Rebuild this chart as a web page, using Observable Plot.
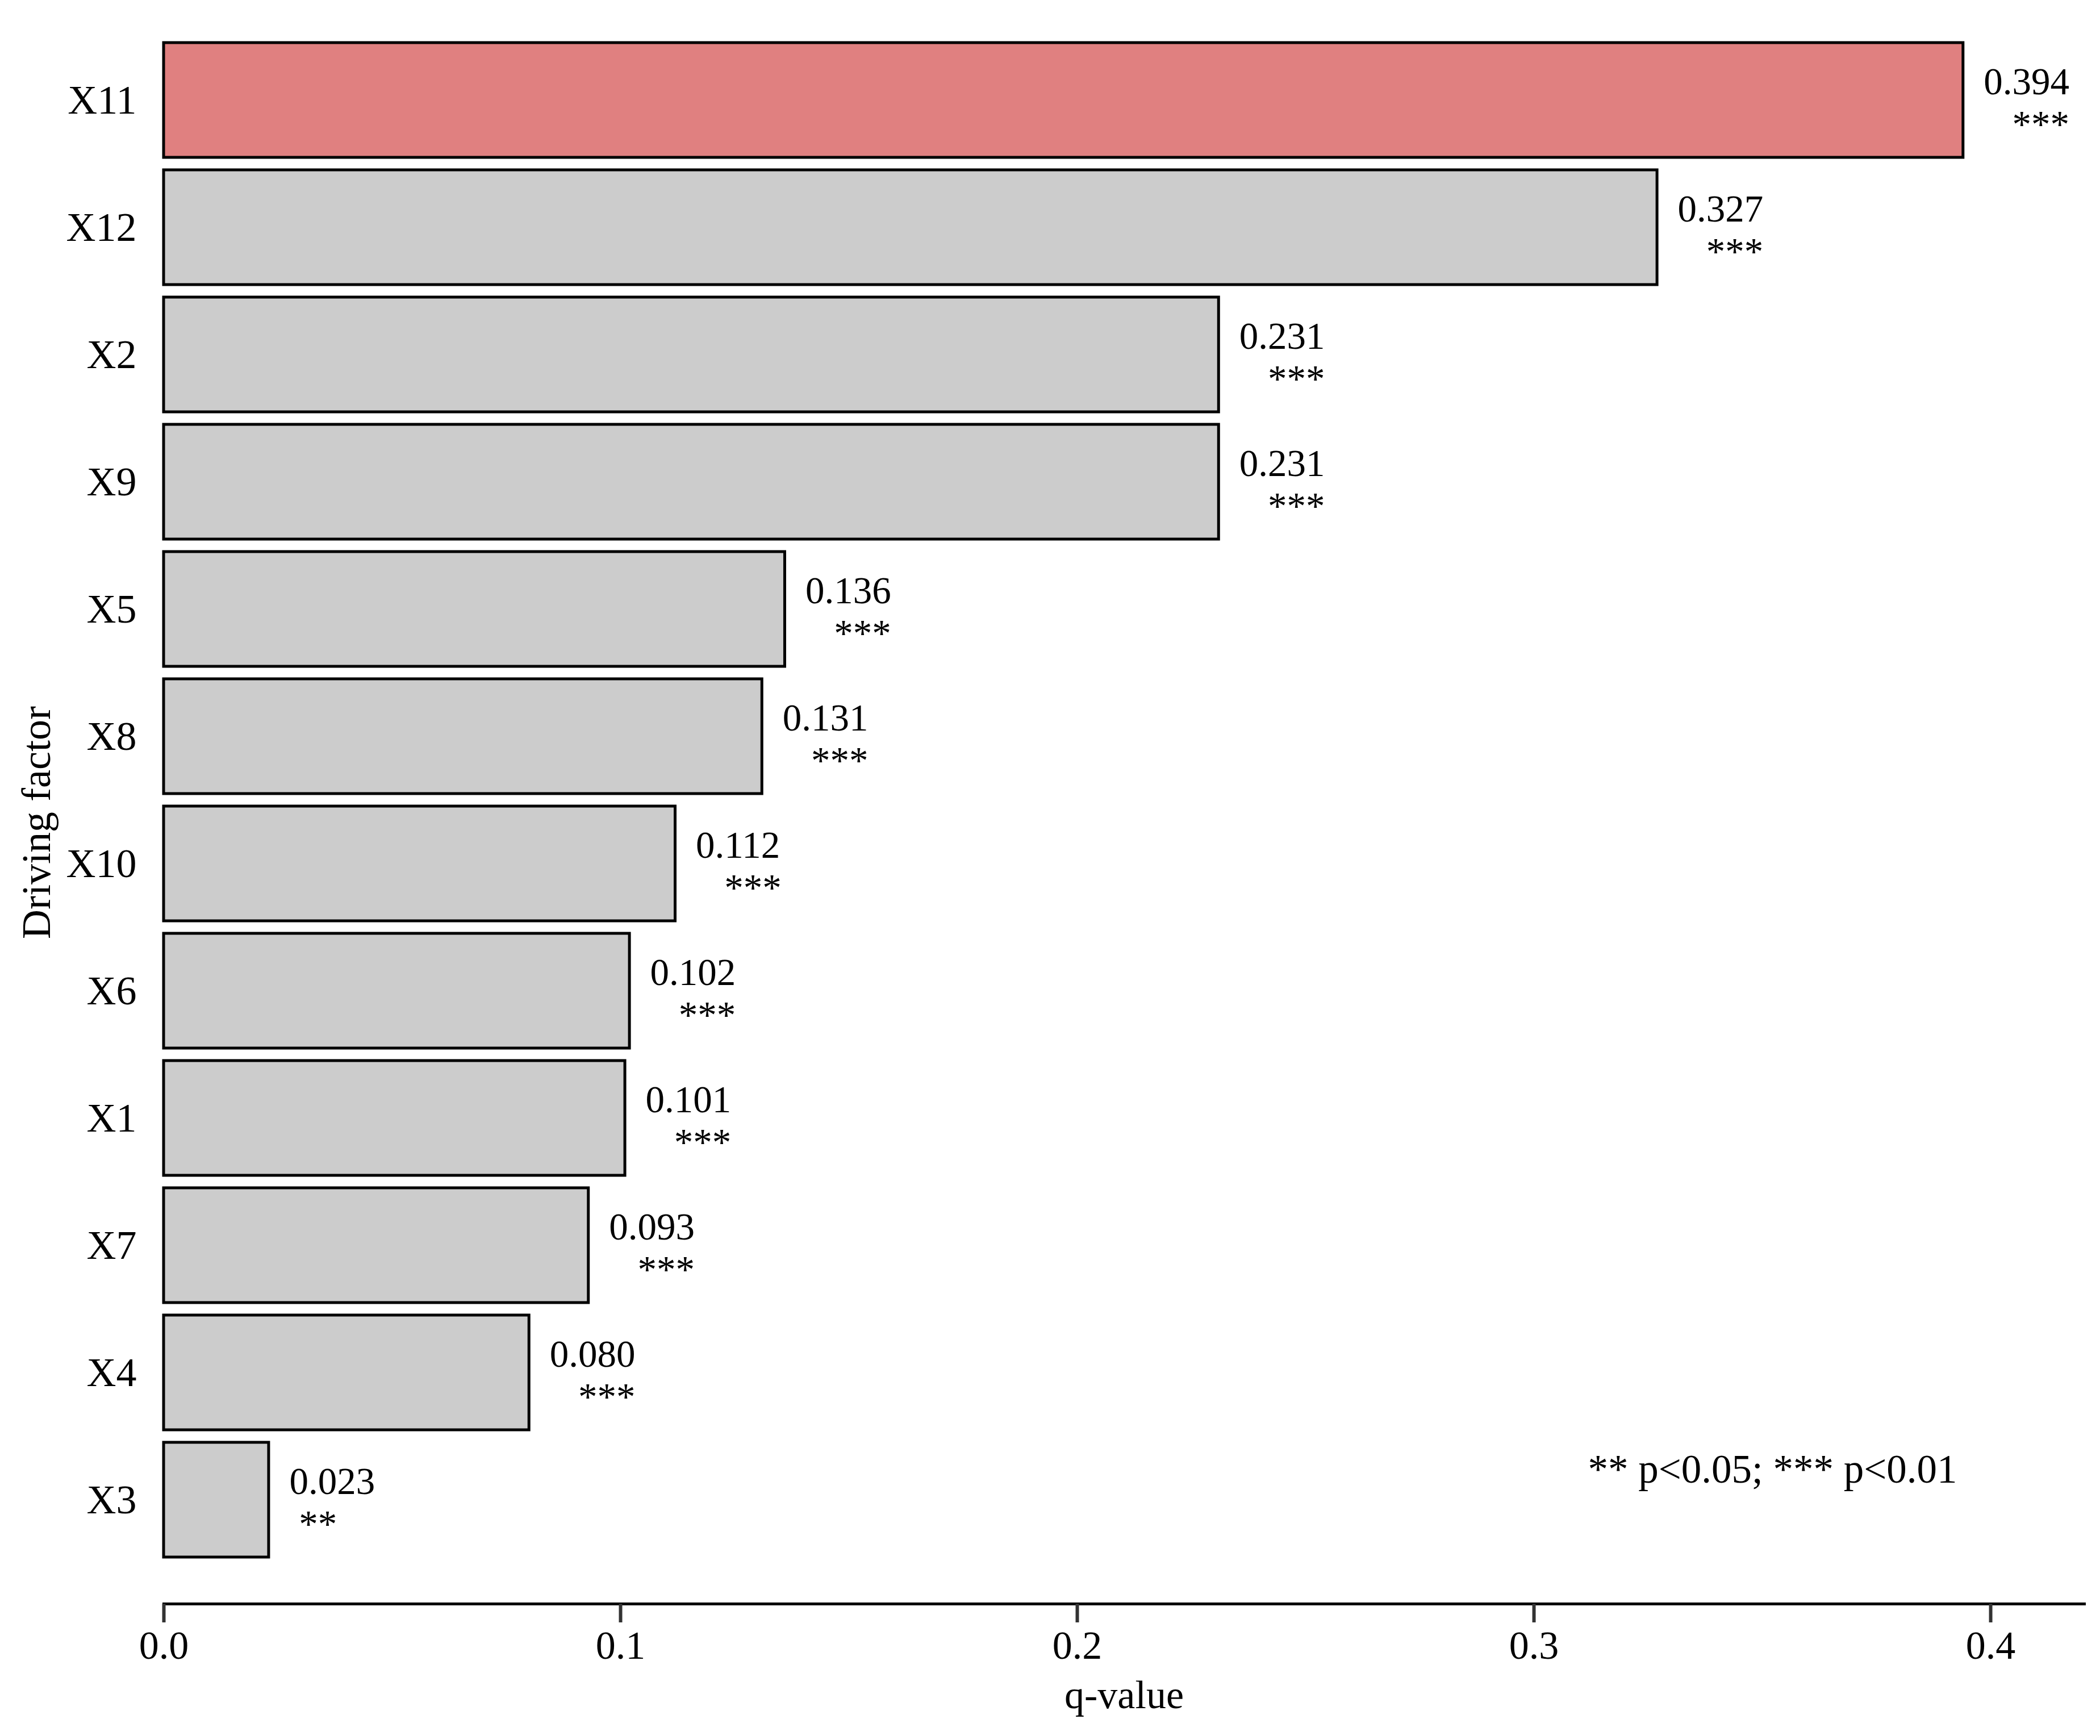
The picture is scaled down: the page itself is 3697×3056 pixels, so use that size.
<!DOCTYPE html>
<html>
<head>
<meta charset="utf-8">
<script src="https://cdn.jsdelivr.net/npm/d3@7"></script>
<script src="https://cdn.jsdelivr.net/npm/@observablehq/plot@0.6"></script>
<style>
  html, body { margin: 0; padding: 0; background: #ffffff; }
  #chart svg { display: block; }
</style>
</head>
<body>
<div id="chart"></div>
<script>
// Driving factors, ordered as drawn from top to bottom
const factors = ["X11", "X12", "X2", "X9", "X5", "X8", "X10", "X6", "X1", "X7", "X4", "X3"];
// q-values
const qValues = [0.394, 0.327, 0.231, 0.231, 0.136, 0.131, 0.112, 0.102, 0.101, 0.093, 0.080, 0.023];
// significance marks
const significance = ["***", "***", "***", "***", "***", "***", "***", "***", "***", "***", "***", "**"];
// x-axis ticks
const xTicks = [0.0, 0.1, 0.2, 0.3, 0.4];
const noteText = ["** p<0.05; *** p<0.01"];

const data = factors.map((f, i) => ({factor: f, q: qValues[i], sig: significance[i]}));
const maxQ = d3.max(qValues);
const font = "'Liberation Serif', 'Times New Roman', serif";

const chart = Plot.plot({
  width: 3697,
  height: 3056,
  marginLeft: 288,
  marginRight: 28,
  marginTop: 72,
  marginBottom: 233,
  style: {fontFamily: font, background: "#ffffff", color: "#000000"},
  x: {domain: [0, maxQ * 1.0673]},
  y: {domain: factors, padding: 0.1, insetTop: -24, insetBottom: 56},
  marks: [
    Plot.barX(data, {
      y: "factor",
      x: "q",
      fill: d => d.q === maxQ ? "#e08080" : "#cccccc",
      stroke: "#000000",
      strokeWidth: 5
    }),
    Plot.text(data, {
      y: "factor",
      x: "q",
      text: d => d3.format(".3f")(d.q) + "\n" + "\u00a0".repeat(d.sig.length === 3 ? 3 : 1) + d.sig,
      textAnchor: "start",
      lineAnchor: "middle",
      lineHeight: 1.12,
      dx: 36,
      dy: 3,
      fontSize: 67,
      fill: "#000000"
    }),
    Plot.text(noteText, {
      text: d => d,
      frameAnchor: "bottom-right",
      textAnchor: "end",
      lineAnchor: "bottom",
      dx: -224,
      dy: -214,
      fontSize: 71,
      fill: "#000000"
    }),
    Plot.frame({anchor: "bottom", stroke: "#000000", strokeWidth: 5}),
    Plot.axisX({
      ticks: xTicks,
      tickFormat: d3.format(".1f"),
      tickSize: 33,
      tickPadding: 14,
      stroke: "#333333",
      strokeWidth: 6,
      fontSize: 70,
      fill: "#000000",
      label: "q-value",
      labelAnchor: "center",
      labelArrow: "none",
      labelOffset: 183
    }),
    Plot.axisY({
      tickSize: 0,
      tickPadding: 48,
      fontSize: 72,
      fill: "#000000",
      label: "Driving factor",
      labelAnchor: "center",
      labelArrow: "none",
      labelOffset: 252
    })
  ]
});

document.getElementById("chart").appendChild(chart);
</script>
</body>
</html>
